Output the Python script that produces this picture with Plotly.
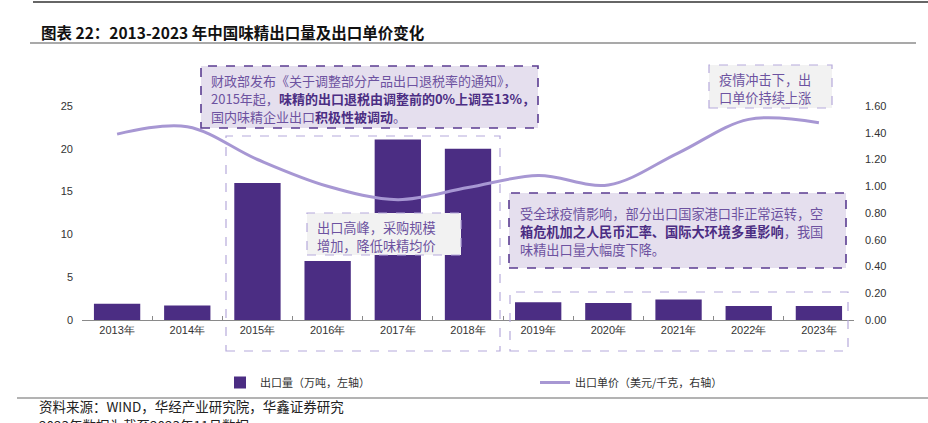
import plotly.graph_objects as go

years = ["2013年", "2014年", "2015年", "2016年", "2017年", "2018年",
         "2019年", "2020年", "2021年", "2022年", "2023年"]
export_volume = [1.9, 1.7, 16.0, 6.9, 21.1, 20.0, 2.07, 2.0, 2.4, 1.65, 1.65]
export_price = [1.39, 1.445, 1.20, 1.00, 0.90, 0.99, 1.08, 1.01, 1.25, 1.50, 1.475]
left_ticks = [0, 5, 10, 15, 20, 25]
right_ticks = [0.0, 0.2, 0.4, 0.6, 0.8, 1.0, 1.2, 1.4, 1.6]
right_tick_labels = ["0.00", "0.20", "0.40", "0.60", "0.80", "1.00", "1.20", "1.40", "1.60"]
vol_name = "出口量（万吨，左轴）"
price_name = "出口单价（美元/千克，右轴）"

W, H = 928, 423
L, R, T, B = 82, 854, 106, 320
CJK = "Noto Sans CJK SC"
BAR_C = "#4b2d83"
LINE_C = "#a797d3"
DARK_DASH = "#5b3d91"
LIGHT_DASH = "#b6aadb"
PURPLE_FILL = "#e5dfee"
GRAY_FILL = "#f2f2f2"
TXT = "#6d52a0"
BOLD = "#4b2d83"


def px(x):
    return (x - L) / (R - L)


def py(y):
    return (B - y) / (B - T)


def b(s):
    return f"<b><span style='color:{BOLD}'>{s}</span></b>"


fig = go.Figure()
fig.add_trace(go.Bar(x=years, y=export_volume, name=vol_name, marker_color=BAR_C,
                     marker_line_width=0, width=0.66, yaxis="y"))
fig.add_trace(go.Scatter(x=years, y=export_price, name=price_name, mode="lines",
                         line=dict(color=LINE_C, width=3, shape="spline", smoothing=1.0),
                         yaxis="y2"))

shapes = []


def box(x0, y0, x1, y1, fill, color, width=1.4):
    shapes.append(dict(type="rect", xref="paper", yref="paper",
                       x0=px(x0), x1=px(x1), y0=py(y1), y1=py(y0),
                       fillcolor=fill, line=dict(color=color, width=width, dash="dash"),
                       layer="above"))


box(226, 136, 500, 351, "rgba(0,0,0,0)", LIGHT_DASH, 1.2)
box(510, 292, 848, 351, "rgba(0,0,0,0)", LIGHT_DASH, 1.2)
box(201, 66, 538, 128, PURPLE_FILL, DARK_DASH, 1.6)
box(307, 213, 461, 255, GRAY_FILL, LIGHT_DASH, 1.2)
box(709, 65, 832, 108, GRAY_FILL, LIGHT_DASH, 1.2)
box(509, 193, 846, 268, PURPLE_FILL, DARK_DASH, 1.6)

# header / footer rules
shapes.append(dict(type="line", xref="paper", yref="paper", x0=px(33), x1=px(928),
                   y0=py(2), y1=py(2), line=dict(color="#333333", width=1.5)))
shapes.append(dict(type="line", xref="paper", yref="paper", x0=px(30), x1=px(916),
                   y0=py(43), y1=py(43), line=dict(color="#8c8c8c", width=1.5)))
shapes.append(dict(type="line", xref="paper", yref="paper", x0=px(17), x1=px(928),
                   y0=py(398), y1=py(398), line=dict(color="#9a9a9a", width=1.5)))

annotations = []


def note(x, y0, lines, size=13.2, step=18.3):
    for i, t in enumerate(lines):
        annotations.append(dict(xref="paper", yref="paper", x=px(x), y=py(y0 + i * step),
                                text=t, showarrow=False, xanchor="left", yanchor="middle",
                                align="left", font=dict(family=CJK, size=size, color=TXT)))


note(209, 80, ["财政部发布《关于调整部分产品出口退税率的通知》，",
               "2015年起，" + b("味精的出口退税由调整前的0%上调至13%，"),
               "国内味精企业出口" + b("积极性被调动") + "。"], size=13)
note(315, 227, ["出口高峰，采购规模", "增加，降低味精均价"])
note(717, 79, ["疫情冲击下，出", "口单价持续上涨"])
note(518, 213, ["受全球疫情影响，部分出口国家港口非正常运转，空",
                b("箱危机加之人民币汇率、国际大环境多重影响") + "，我国",
                "味精出口量大幅度下降。"])

annotations.append(dict(xref="paper", yref="paper", x=px(39), y=py(32),
                        text="<b>图表 22：2013-2023 年中国味精出口量及出口单价变化</b>",
                        showarrow=False, xanchor="left", yanchor="middle",
                        font=dict(family=CJK, size=15.5, color="#111111")))
annotations.append(dict(xref="paper", yref="paper", x=px(37), y=py(406),
                        text="资料来源：WIND，华经产业研究院，华鑫证券研究",
                        showarrow=False, xanchor="left", yanchor="middle",
                        font=dict(family=CJK, size=13.5, color="#222222")))
annotations.append(dict(xref="paper", yref="paper", x=px(37), y=py(425),
                        text="2023年数据为截至2023年11月数据",
                        showarrow=False, xanchor="left", yanchor="middle",
                        font=dict(family=CJK, size=13.5, color="#222222")))

fig.update_layout(
    width=W, height=H,
    margin=dict(l=L, r=W - R, t=T, b=H - B, pad=0),
    paper_bgcolor="white", plot_bgcolor="white",
    shapes=shapes, annotations=annotations,
    xaxis=dict(type="category", showline=True, linecolor="#8a8a8a", linewidth=1.2,
               ticks="inside", tickson="boundaries", ticklen=4, tickcolor="#8a8a8a",
               tickfont=dict(family="Liberation Sans, Arial", size=11, color="#333333"),
               showgrid=False, zeroline=False, range=[-0.5, 10.5]),
    yaxis=dict(range=[0, 25], tickvals=left_ticks, showgrid=False, zeroline=False,
               showline=False, ticks="", ticklabelstandoff=8,
               tickfont=dict(family="Liberation Sans, Arial", size=11, color="#333333")),
    yaxis2=dict(range=[0, 1.6], tickvals=right_ticks, ticktext=right_tick_labels,
                overlaying="y", side="right", showgrid=False, zeroline=False,
                showline=False, ticks="", ticklabelstandoff=10,
                tickfont=dict(family="Liberation Sans, Arial", size=11, color="#333333")),
    legend=dict(orientation="h", x=px(220), y=py(368), xanchor="left", yanchor="top",
                entrywidth=270, entrywidthmode="pixels", itemwidth=30,
                font=dict(family=CJK, size=11, color="#333333"),
                bgcolor="rgba(0,0,0,0)"),
    showlegend=True,
)

fig.write_html("out.html", config={"displayModeBar": False},
               post_script="document.body.style.margin='0px';document.body.style.overflow='hidden';")
